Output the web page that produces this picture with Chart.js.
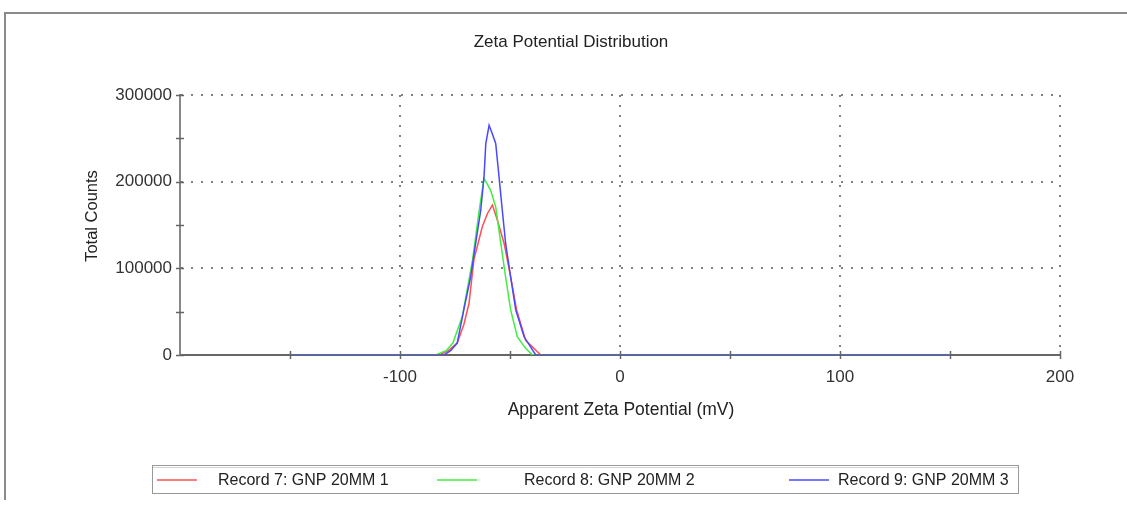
<!DOCTYPE html>
<html><head><meta charset="utf-8">
<script src="https://cdn.jsdelivr.net/npm/chart.js@4.4.0/dist/chart.umd.min.js"></script>
<style>html,body{margin:0;padding:0;background:#fff;}#wrap{width:1127px;height:506px;position:relative;}</style>
</head><body><div id="wrap"><canvas id="c" width="1127" height="506"></canvas></div>
<script>
const chartTitle = "Zeta Potential Distribution";
const xAxisTitle = "Apparent Zeta Potential (mV)";
const yAxisTitle = "Total Counts";
const seriesLabels = ["Record 7: GNP 20MM 1", "Record 8: GNP 20MM 2", "Record 9: GNP 20MM 3"];
const xTickValues = [-100, 0, 100, 200];
const xMinorTicks = [-150, -50, 50, 150];
const yTickValues = [0, 100000, 200000, 300000];
const yMinorTicks = [50000, 150000, 250000];

const redX = [-150, -82.3, -78, -74, -71, -68.6, -66.4, -62.6, -60.3, -58, -55.8, -52.7, -49.7, -47, -42.9, -36, 150];
const redY = [0, 0, 5000, 13800, 35000, 60000, 110000, 148000, 163000, 173000, 156000, 129000, 90000, 52000, 17000, 0, 0];
const greenX = [-150, -83.8, -79, -76, -71.7, -67, -64, -61.8, -58.8, -56.5, -54.2, -52, -49.7, -46.7, -43, -39.9, 150];
const greenY = [0, 0, 5000, 13800, 44000, 110000, 167000, 204000, 190000, 171000, 129000, 90000, 52000, 21000, 8000, 0, 0];
const blueX = [-150, -80, -77, -74, -71, -67.9, -65.6, -63.3, -61.8, -61, -59.5, -58, -56.5, -55, -53.5, -52, -49.7, -47.4, -43.6, -38.3, 150];
const blueY = [0, 0, 5000, 13800, 52000, 90000, 129000, 167000, 206000, 244000, 265000, 255000, 244000, 206000, 167000, 129000, 90000, 52000, 21000, 0, 0];

const colors = ["#ff5050", "#40ee40", "#4848ff"];
const FONT = "'Liberation Sans', Arial, sans-serif";

function pts(xs, ys){ return xs.map((x,i)=>({x:x, y:ys[i]})); }

const decor = {
  id: 'decor',
  beforeDraw(chart){
    const ctx = chart.ctx;
    ctx.save();
    ctx.fillStyle = '#fff'; ctx.fillRect(0,0,chart.width,chart.height);
    ctx.strokeStyle = '#8a8a8a'; ctx.lineWidth = 2;
    ctx.beginPath(); ctx.moveTo(5,500); ctx.lineTo(5,13); ctx.lineTo(1127,13); ctx.stroke();
    ctx.restore();
  },
  afterDraw(chart){
    const ctx = chart.ctx, xs = chart.scales.x, ys = chart.scales.y, a = chart.chartArea;
    ctx.save();
    ctx.fillStyle = '#222'; ctx.textAlign = 'center'; ctx.textBaseline = 'middle';
    ctx.font = "17px " + FONT;
    ctx.fillText(chartTitle, 571, 42);
    ctx.font = "17.5px " + FONT;
    ctx.fillText(xAxisTitle, 621, 410);
    ctx.font = "16.5px " + FONT;
    ctx.save(); ctx.translate(92, 216); ctx.rotate(-Math.PI/2); ctx.fillText(yAxisTitle, 0, 0); ctx.restore();
    // tick marks
    ctx.strokeStyle = '#666'; ctx.lineWidth = 1.5;
    xTickValues.concat(xMinorTicks).forEach(v=>{
      const p = Math.round(xs.getPixelForValue(v))+0.5;
      ctx.beginPath(); ctx.moveTo(p, a.bottom-4); ctx.lineTo(p, a.bottom+4); ctx.stroke();
    });
    yTickValues.concat(yMinorTicks).forEach(v=>{
      const p = Math.round(ys.getPixelForValue(v))+0.5;
      ctx.beginPath(); ctx.moveTo(a.left-4, p); ctx.lineTo(a.left+4, p); ctx.stroke();
    });
    // legend
    ctx.strokeStyle = '#999'; ctx.lineWidth = 1;
    ctx.strokeRect(152.5, 465.5, 866, 28);
    ctx.strokeStyle = '#d4d4d4';
    ctx.beginPath(); ctx.moveTo(153, 467.5); ctx.lineTo(1018, 467.5); ctx.stroke();
    const lineStarts = [157, 437, 789];
    const textStarts = [218, 524, 838];
    ctx.font = "16px " + FONT; ctx.textAlign = 'left'; ctx.fillStyle = '#222';
    chart.data.datasets.forEach((d,i)=>{
      ctx.strokeStyle = d.borderColor; ctx.lineWidth = 1.5;
      ctx.beginPath(); ctx.moveTo(lineStarts[i], 480); ctx.lineTo(lineStarts[i]+40, 480); ctx.stroke();
      ctx.fillText(d.label, textStarts[i], 481);
    });
    ctx.restore();
  }
};

new Chart(document.getElementById('c'), {
  type: 'line',
  data: {
    datasets: [
      {label: seriesLabels[0], data: pts(redX, redY), borderColor: colors[0], order: 3},
      {label: seriesLabels[1], data: pts(greenX, greenY), borderColor: colors[1], order: 2},
      {label: seriesLabels[2], data: pts(blueX, blueY), borderColor: colors[2], order: 1}
    ].map(d=>Object.assign(d, {borderWidth: 1.5, pointRadius: 0, tension: 0, fill: false}))
  },
  options: {
    responsive: false, animation: false, devicePixelRatio: 1,
    layout: {padding: {left: 0, top: 95, right: 67, bottom: 0}},
    plugins: {legend: {display: false}, title: {display: false}, tooltip: {enabled: false}},
    scales: {
      x: {
        type: 'linear', min: -200, max: 200,
        afterFit(s){ s.height = 151; },
        afterBuildTicks(s){ s.ticks = [-200].concat(xTickValues).map(v=>({value:v})); },
        ticks: {padding: 12, color: '#333', font: {family: FONT, size: 17},
          callback: v => v === -200 ? '' : String(v), maxRotation: 0},
        grid: {drawTicks: false, color: c => (c.tick && c.tick.value === -200) ? 'rgba(0,0,0,0)' : '#808080', lineWidth: 2},
        border: {display: true, color: '#666', width: 2, dash: [2, 8]}
      },
      y: {
        type: 'linear', min: 0, max: 300000,
        afterFit(s){ s.width = 180; },
        afterBuildTicks(s){ s.ticks = yTickValues.map(v=>({value:v})); },
        ticks: {padding: 8, color: '#333', font: {family: FONT, size: 17}, callback: v => String(v)},
        grid: {drawTicks: false, color: c => (c.tick && c.tick.value === 0) ? 'rgba(0,0,0,0)' : '#808080', lineWidth: 2},
        border: {display: true, color: '#888', width: 2, dash: [2, 8]}
      }
    }
  },
  plugins: [decor]
});
</script>
</body></html>
